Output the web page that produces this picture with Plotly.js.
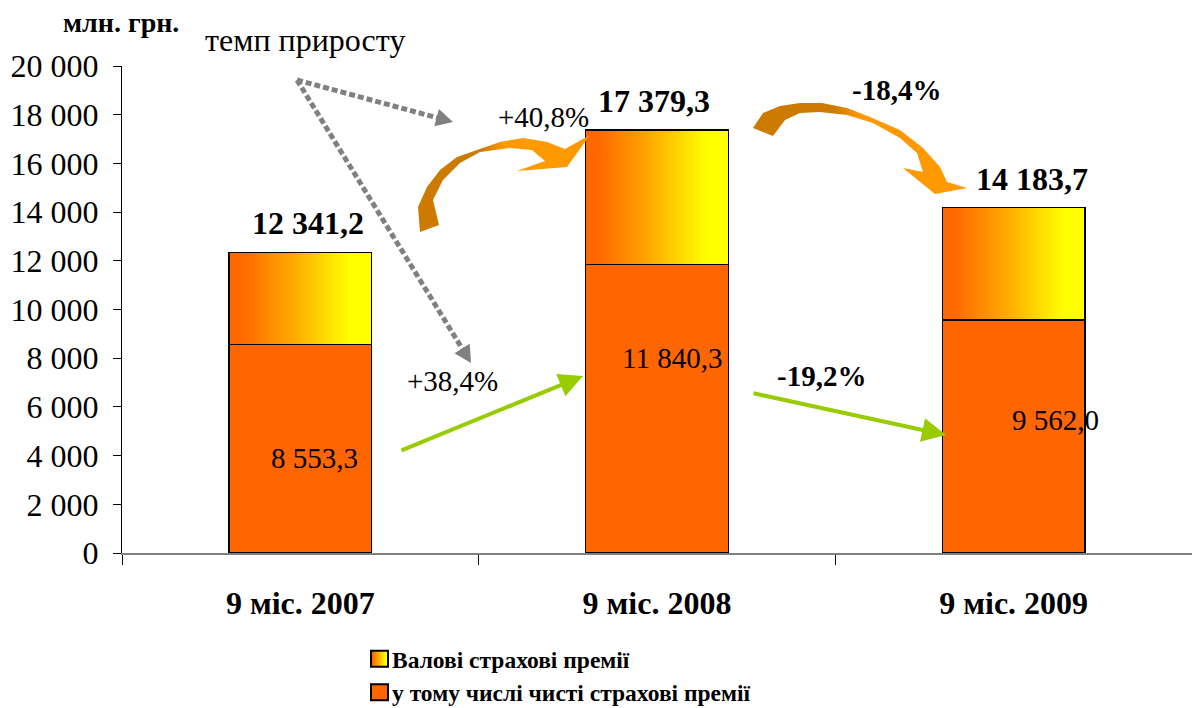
<!DOCTYPE html>
<html>
<head>
<meta charset="utf-8">
<script src="https://cdn.plot.ly/plotly-3.0.1.min.js"></script>
<style>
  html, body { margin: 0; padding: 0; background: #ffffff; }
  #chart { width: 1192px; height: 708px; }
</style>
</head>
<body>
<div id="chart"></div>
<script>
// ---- data ----
const categories = ['9 міс. 2007', '9 міс. 2008', '9 міс. 2009'];
const grossPremiums = [12341.2, 17379.3, 14183.7];
const netPremiums = [8553.3, 11840.3, 9562.0];
const seriesNames = ['Валові страхові премії', 'у тому числі чисті страхові премії'];
const yTickVals = [0, 2000, 4000, 6000, 8000, 10000, 12000, 14000, 16000, 18000, 20000];

// ---- helpers ----
const W = 1192, H = 708, ML = 122, MR = 0, MT = 66, MB = 155;
const PW = W - ML - MR, PH = H - MT - MB;
const px = x => (x - ML) / PW;
const py = y => (H - MB - y) / PH;
function fmt(v) {
  const s = v.toFixed(1).split('.');
  return s[0].replace(/\B(?=(\d{3})+(?!\d))/g, ' ') + ',' + s[1];
}
function pct(a, b) {
  const p = (b / a - 1) * 100;
  return (p >= 0 ? '+' : '-') + Math.abs(p).toFixed(1).replace('.', ',') + '%';
}
function pathFrom(points) {
  return 'M ' + points.map(p => px(p[0]).toFixed(5) + ',' + py(p[1]).toFixed(5)).join(' L ') + ' Z';
}

const remainder = grossPremiums.map((g, i) => g - netPremiums[i]);
const FONT = '"Liberation Serif", "Times New Roman", serif';

const traces = [
  {
    type: 'bar', x: categories, y: netPremiums, name: seriesNames[1],
    marker: { color: '#FF6600', line: { color: '#000000', width: 1.5 } },
    width: 0.4, hoverinfo: 'y+name'
  },
  {
    type: 'bar', x: categories, y: remainder, name: seriesNames[0],
    customdata: grossPremiums,
    marker: { color: '#FFB000', line: { color: '#000000', width: 1.5 } },
    width: 0.4, hovertemplate: '%{customdata}<extra>' + seriesNames[0] + '</extra>'
  }
];

// ---- annotations ----
const annotations = [];
function txt(text, x, y, size, bold, extra) {
  annotations.push(Object.assign({
    text: text, xref: 'paper', yref: 'paper', x: px(x), y: py(y),
    xanchor: 'center', yanchor: 'middle', showarrow: false,
    font: { family: FONT, size: size, color: '#000000', weight: bold ? 'bold' : 'normal' }
  }, extra || {}));
}
txt('млн. грн.', 121, 22, 28, true);
txt('темп приросту', 305, 40, 32, false);
// totals above bars
const totalShift = [8, -3, 18];
categories.forEach((c, i) => {
  annotations.push({
    text: fmt(grossPremiums[i]), x: c, y: grossPremiums[i], xref: 'x', yref: 'y',
    yanchor: 'bottom', yshift: 9, xshift: totalShift[i], showarrow: false,
    font: { family: FONT, size: 32, color: '#000000', weight: 'bold' }
  });
});
// inner net labels
txt(fmt(netPremiums[0]), 314, 458, 29, false);
txt(fmt(netPremiums[1]), 672, 358, 29, false);
txt(fmt(netPremiums[2]), 1055, 420, 29, false);
// growth rates
txt(pct(grossPremiums[0], grossPremiums[1]), 543, 117, 29, false);
txt(pct(grossPremiums[1], grossPremiums[2]), 896, 90, 29, true);
txt(pct(netPremiums[0], netPremiums[1]), 452, 381, 29, false);
txt(pct(netPremiums[1], netPremiums[2]), 821, 376, 29, true);

// green arrows
function greenArrow(x0, y0, x1, y1) {
  annotations.push({
    xref: 'paper', yref: 'paper', x: px(x1), y: py(y1),
    ax: x0 - x1, ay: y0 - y1, axref: 'pixel', ayref: 'pixel',
    text: '', showarrow: true, arrowhead: 2, arrowsize: 1.2, arrowwidth: 4,
    arrowcolor: '#99CC00', standoff: 0
  });
}
greenArrow(400, 451, 583, 376);
greenArrow(752, 393, 946, 435);

// ---- shapes ----
const shapes = [];
function grayArrow(x0, y0, x1, y1) {
  const dx = x1 - x0, dy = y1 - y0, L = Math.hypot(dx, dy);
  const ux = dx / L, uy = dy / L, hl = 17, hw = 9;
  const bx = x1 - ux * hl, by = y1 - uy * hl;
  shapes.push({
    type: 'line', xref: 'paper', yref: 'paper',
    x0: px(x0), y0: py(y0), x1: px(bx + ux * 2), y1: py(by + uy * 2),
    line: { color: '#808080', width: 5, dash: '6px,3px' }
  });
  shapes.push({
    type: 'path', xref: 'paper', yref: 'paper',
    path: pathFrom([[x1, y1], [bx - uy * hw, by + ux * hw], [bx + uy * hw, by - ux * hw]]),
    fillcolor: '#808080', line: { width: 0 }
  });
}
grayArrow(297, 80, 453, 122);
grayArrow(297, 80, 471, 363);

// curved block arrows (orange)
const curve1 = [
  [420, 232], [418, 207], [427, 187], [440, 170], [457, 157], [477, 150], [500, 142],
  [523, 138], [547, 142], [565, 149], [590, 135], [567, 167], [517, 171], [545, 161],
  [532, 150], [510, 148], [480, 152], [460, 163], [443, 180], [433, 200], [439, 225]
];
const curve2 = [
  [753, 128], [763, 113], [780, 106], [800, 103], [822, 103], [847, 108], [870, 117],
  [900, 130], [923, 148], [940, 167], [947, 182], [967, 188], [935, 194], [903, 168],
  [923, 172], [917, 153], [900, 138], [873, 123], [847, 115], [820, 112], [800, 113],
  [785, 120], [773, 136]
];
shapes.push({ type: 'path', xref: 'paper', yref: 'paper', path: pathFrom(curve1), fillcolor: '#FF9900', line: { width: 0 }, layer: 'above' });
shapes.push({ type: 'path', xref: 'paper', yref: 'paper', path: pathFrom(curve2), fillcolor: '#FF9900', line: { width: 0 }, layer: 'above' });
const curveIdx = [shapes.length - 2, shapes.length - 1];

const layout = {
  width: W, height: H,
  margin: { l: ML, r: MR, t: MT, b: MB, pad: 0, autoexpand: false },
  paper_bgcolor: '#ffffff', plot_bgcolor: '#ffffff',
  separators: ', ',
  barmode: 'stack',
  font: { family: FONT, color: '#000000' },
  showlegend: true,
  legend: {
    xref: 'container', yref: 'container',
    x: 352 / W, y: 1 - 637 / H, xanchor: 'left', yanchor: 'top',
    traceorder: 'reversed', bgcolor: 'rgba(0,0,0,0)',
    font: { family: FONT, size: 23.5, color: '#000000', weight: 'bold' },
    tracegroupgap: 0, itemsizing: 'constant'
  },
  xaxis: {
    type: 'category', range: [-0.5, 2.5], fixedrange: true,
    showline: true, linecolor: '#808080', linewidth: 2,
    ticks: 'outside', tickson: 'boundaries', ticklen: 10, tickcolor: '#000000', tickwidth: 1,
    showgrid: false, zeroline: false, ticklabelstandoff: 21, automargin: false,
    tickfont: { family: FONT, size: 32, color: '#000000', weight: 'bold' }
  },
  yaxis: {
    range: [0, 20000], tickvals: yTickVals, tickformat: ',d', fixedrange: true,
    showline: true, linecolor: '#000000', linewidth: 1,
    ticks: 'outside', ticklen: 8, tickcolor: '#000000', tickwidth: 1,
    showgrid: false, zeroline: false, ticklabelstandoff: 8, automargin: false,
    tickfont: { family: FONT, size: 32, color: '#000000', weight: 'normal' }
  },
  annotations: annotations,
  shapes: shapes
};

function applyGradients() {
  const svg = document.querySelector('#chart .main-svg');
  const NS = 'http://www.w3.org/2000/svg';
  let defs = svg.querySelector('defs');
  if (!defs) { defs = document.createElementNS(NS, 'defs'); svg.insertBefore(defs, svg.firstChild); }
  function grad(id, stops) {
    if (document.getElementById(id)) return;
    const g = document.createElementNS(NS, 'linearGradient');
    g.setAttribute('id', id);
    g.setAttribute('x1', '0'); g.setAttribute('y1', '0');
    g.setAttribute('x2', '1'); g.setAttribute('y2', '0');
    stops.forEach(s => {
      const st = document.createElementNS(NS, 'stop');
      st.setAttribute('offset', s[0]);
      st.setAttribute('stop-color', s[1]);
      g.appendChild(st);
    });
    defs.appendChild(g);
  }
  grad('gradOY', [[0, '#FF6600'], [0.1, '#FF6A00'], [0.45, '#FFAA00'], [0.85, '#FFFF00'], [1, '#FFFF00']]);
  grad('gradArrow', [[0, '#CC7A00'], [0.38, '#CC7A00'], [0.5, '#FF9900'], [1, '#FF9900']]);
  const barTraces = document.querySelectorAll('#chart .barlayer .trace');
  if (barTraces[1]) barTraces[1].querySelectorAll('path').forEach(p => { p.style.fill = 'url(#gradOY)'; });
  document.querySelectorAll('#chart .legend .traces').forEach(t => {
    const tx = t.querySelector('.legendtext');
    const isGross = tx && tx.textContent.indexOf('Валові') === 0;
    t.querySelectorAll('.legendpoints path').forEach(p => {
      p.setAttribute('d', 'M16,8H-1V-8H16Z');
      if (isGross) p.style.fill = 'url(#gradOY)';
    });
  });
  document.querySelectorAll('#chart .shapelayer path').forEach(p => {
    const idx = +p.getAttribute('data-index');
    if (curveIdx.indexOf(idx) >= 0) p.style.fill = 'url(#gradArrow)';
  });
}

Plotly.newPlot('chart', traces, layout, { displayModeBar: false }).then(gd => {
  applyGradients();
  gd.on('plotly_afterplot', applyGradients);
});
</script>
</body>
</html>
